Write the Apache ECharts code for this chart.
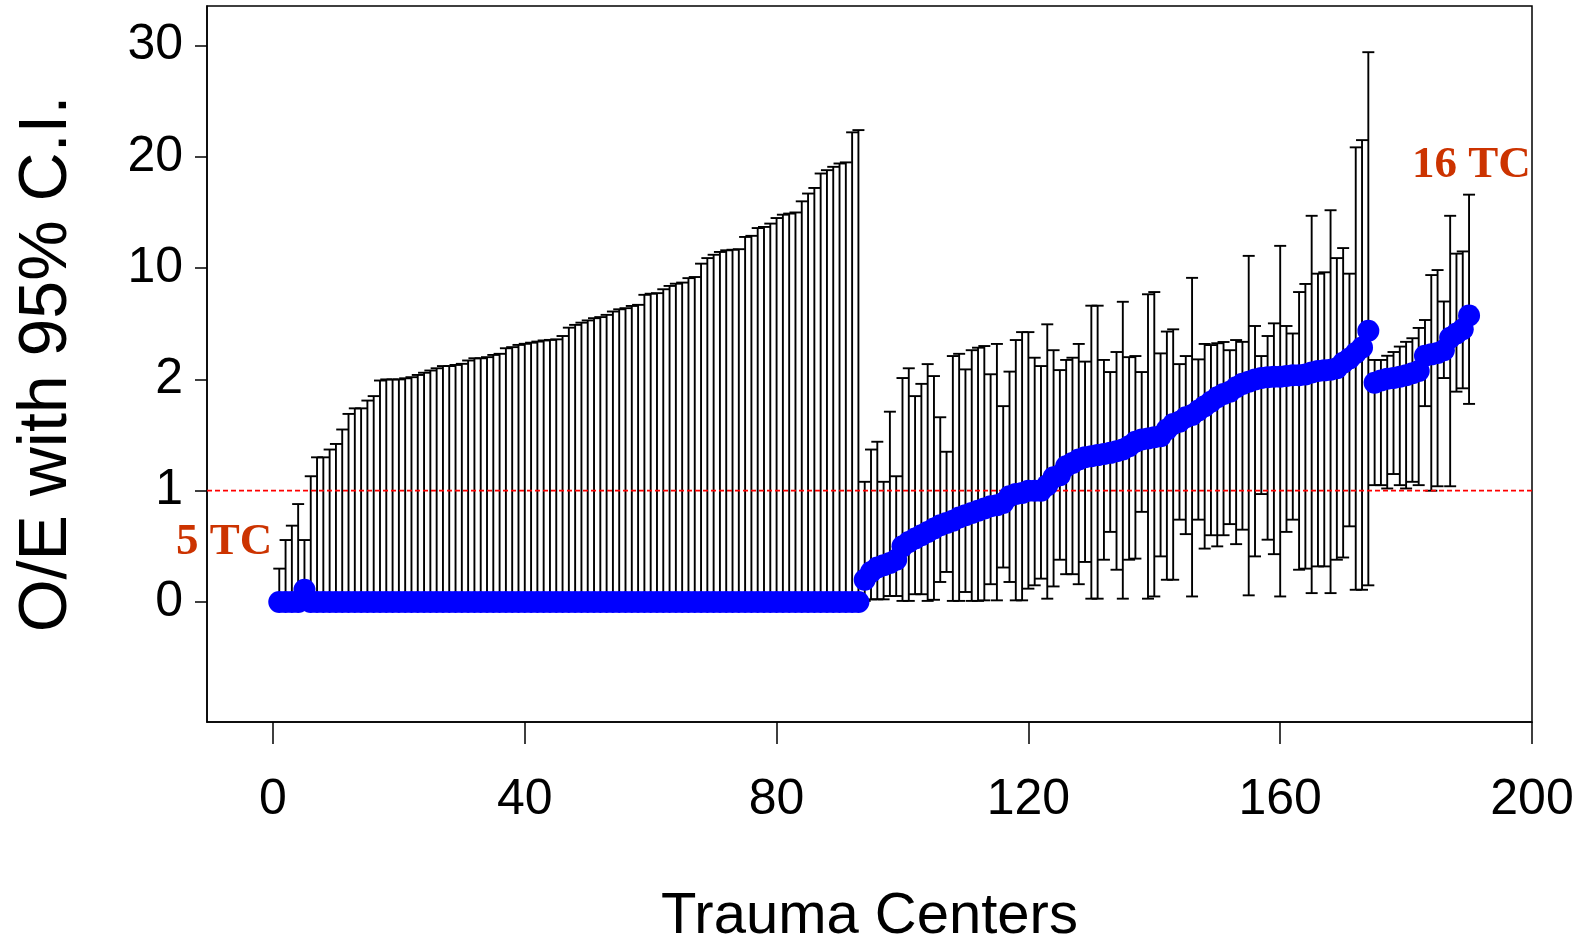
<!DOCTYPE html>
<html>
<head>
<meta charset="utf-8">
<script src="https://cdn.jsdelivr.net/npm/echarts@6/dist/echarts.min.js"></script>
<style>
html,body{margin:0;padding:0;background:#fff;}
#chart{width:1584px;height:943px;}
</style>
</head>
<body>
<div id="chart"></div>
<script>
// ---- data (actual O/E values, 95% CI) for trauma centers 1..190 ----
const oe = [
0,0,0,0,0.11,0,0,0,0,0,
0,0,0,0,0,0,0,0,0,0,
0,0,0,0,0,0,0,0,0,0,
0,0,0,0,0,0,0,0,0,0,
0,0,0,0,0,0,0,0,0,0,
0,0,0,0,0,0,0,0,0,0,
0,0,0,0,0,0,0,0,0,0,
0,0,0,0,0,0,0,0,0,0,
0,0,0,0,0,0,0,0,0,0,
0,0,0,
0.2,0.27,0.31,0.33,0.35,0.38,0.5,0.54,0.57,0.6,0.63,0.66,0.69,0.71,0.73,0.76,0.78,0.8,0.82,0.84,0.86,0.87,0.89,0.95,0.97,0.98,1.0,
1.0,1.0,1.05,1.12,1.14,1.22,1.25,1.28,1.3,1.31,1.32,1.33,1.34,1.355,1.37,1.4,1.44,1.46,1.47,1.48,1.49,1.55,1.6,1.62,1.66,1.68,1.72,1.76,1.8,1.84,1.87,
1.89,1.93,1.96,1.98,2.0,2.1,2.15,2.2,2.2,2.25,2.3,2.3,2.35,2.5,2.6,2.65,2.7,2.8,3.2,3.5,3.9,4.3,5.5,
1.97,1.99,2.05,2.1,2.2,2.3,2.45,2.6,3.7,3.8,3.9,4.1,5.0,5.3,5.6,6.6
];
const lower = [
0,0,0,0,0,0,0,0,0,0,
0,0,0,0,0,0,0,0,0,0,
0,0,0,0,0,0,0,0,0,0,
0,0,0,0,0,0,0,0,0,0,
0,0,0,0,0,0,0,0,0,0,
0,0,0,0,0,0,0,0,0,0,
0,0,0,0,0,0,0,0,0,0,
0,0,0,0,0,0,0,0,0,0,
0,0,0,0,0,0,0,0,0,0,
0,0,0,
0.01,0.024,0.024,0.024,0.054,0.054,0.01,0.01,0.07,0.07,0.01,0.02,0.18,0.27,0.01,0.01,0.09,0.01,0.01,0.015,0.16,0.015,0.31,0.18,0.015,0.015,0.12,
0.15,0.21,0.03,0.14,0.38,0.25,0.25,0.16,0.36,0.03,0.03,0.38,0.63,0.29,0.03,0.38,0.39,0.81,0.03,0.05,0.41,0.2,0.2,0.74,0.61,0.05,0.74,0.48,0.6,0.5,0.6,
0.7,0.52,0.65,0.06,0.41,0.97,0.56,0.43,0.05,0.63,0.74,0.29,0.3,0.08,0.32,0.32,0.08,0.38,0.4,0.68,0.11,0.11,0.15,
1.05,1.05,1.02,1.15,1.05,1.02,1.08,1.05,1.76,1.0,1.04,2.1,1.04,1.89,1.92,1.78
];
const upper = [
0.30,0.557,0.686,0.88,0.557,1.13,1.30,1.30,1.37,1.42,
1.55,1.69,1.74,1.74,1.81,1.85,1.99,2.0,2.0,2.0,
2.08,2.16,2.32,2.48,2.64,2.8,2.96,2.96,3.04,3.12,
3.36,3.52,3.52,3.6,3.76,3.84,4.24,4.32,4.48,4.56,
4.64,4.72,4.8,4.84,4.88,5.12,5.72,5.92,6.08,6.24,
6.4,6.48,6.64,6.88,7.04,7.12,7.28,7.36,8.08,8.16,
8.2,8.48,8.72,8.88,8.96,9.28,9.36,10.4,10.9,11.2,
11.45,11.6,11.65,11.7,12.8,12.9,13.6,13.7,14.0,14.5,
14.8,14.9,15.0,16.0,16.7,17.2,18.5,18.8,19.1,19.4,
19.5,22.2,22.4,
1.08,1.37,1.44,1.08,1.71,1.13,2.1,2.8,1.85,1.96,3.1,2.24,1.66,1.35,3.68,3.84,2.72,4.1,4.28,4.4,2.37,4.55,1.76,2.56,4.83,5.4,5.4,
3.56,2.96,5.96,4.1,2.67,3.4,3.56,4.55,3.28,7.3,7.3,3.4,2.53,3.97,7.58,3.6,3.68,2.53,8.12,8.28,3.87,5.44,5.6,3.1,3.68,9.3,3.44,4.55,4.47,4.6,4.69,
4.1,4.83,4.7,11.1,5.84,3.68,5.12,6.03,12.0,5.84,5.3,8.28,8.86,14.7,9.6,9.7,15.2,10.9,11.8,9.6,20.85,21.5,29.4,
3.4,3.4,3.7,3.97,4.36,4.7,4.96,5.7,6.27,9.5,9.86,7.6,14.7,11.3,11.5,16.6
];
const xTickValues = [0, 40, 80, 120, 160, 200];
const yTickValues = [0, 1, 2, 10, 20, 30];
const yTickLabels = ['0', '1', '2', '10', '20', '30'];
const referenceValue = 1;
const annotations = [{text: '5 TC'}, {text: '16 TC'}];

// piecewise scale used by the original figure: 0-1-2 linear, then 2-10, 10-20, 20-30 each one step
function T(v) {
  if (v <= 2) return v;
  if (v <= 10) return 2 + (v - 2) / 8;
  if (v <= 20) return 3 + (v - 10) / 10;
  return 4 + (v - 20) / 10;
}
const yCustom = yTickValues.map(T);
const labelMap = {};
yCustom.forEach((p, k) => { labelMap[p.toFixed(4)] = yTickLabels[k]; });

const X_MIN = -10.48, X_MAX = 200, Y_MIN = -1.078, Y_MAX = 5.355;

const barData = [], dotData = [];
for (let k = 0; k < oe.length; k++) {
  const c = k + 1;
  barData.push([c, T(lower[k]), T(upper[k])]);
  dotData.push([c, T(oe[k])]);
}

const chart = echarts.init(document.getElementById('chart'), null, {renderer: 'canvas'});
const font = 'Liberation Sans';
chart.setOption({
  animation: false,
  backgroundColor: '#ffffff',
  grid: {left: 207, right: 52, top: 6, bottom: 221, show: true, borderColor: '#000', borderWidth: 1.5,
         containLabel: false, outerBoundsMode: 'none'},
  xAxis: {
    type: 'value', min: X_MIN, max: X_MAX,
    axisLine: {show: true, onZero: false, lineStyle: {color: '#000', width: 1.5}},
    axisTick: {show: true, customValues: xTickValues, length: 22, lineStyle: {color: '#000', width: 1.5}},
    axisLabel: {customValues: xTickValues, fontSize: 50, color: '#000', margin: 53, fontFamily: font},
    splitLine: {show: false},
    name: 'Trauma Centers', nameLocation: 'middle', nameGap: 166,
    nameTextStyle: {fontSize: 58, color: '#000', fontFamily: font}
  },
  yAxis: {
    type: 'value', min: Y_MIN, max: Y_MAX,
    axisLine: {show: true, onZero: false, lineStyle: {color: '#000', width: 1.5}},
    axisTick: {show: true, customValues: yCustom, length: 12, lineStyle: {color: '#000', width: 1.5}},
    axisLabel: {customValues: yCustom, fontSize: 50, color: '#000', margin: 24, fontFamily: font,
      formatter: v => labelMap[Number(v).toFixed(4)] || ''},
    splitLine: {show: false},
    name: 'O/E with 95% C.I.', nameLocation: 'middle', nameRotate: 90, nameGap: 126,
    nameTextStyle: {fontSize: 68, color: '#000', fontFamily: font}
  },
  series: [
    {
      type: 'custom', z: 2, clip: true,
      data: barData,
      encode: {x: 0, y: [1, 2]},
      renderItem: function (params, api) {
        const x = api.value(0);
        const lo = api.coord([x, api.value(1)]);
        const hi = api.coord([x, api.value(2)]);
        const hw = 6;
        const st = {stroke: '#000', lineWidth: 1.9};
        return {type: 'group', children: [
          {type: 'line', shape: {x1: lo[0], y1: lo[1], x2: hi[0], y2: hi[1]}, style: st},
          {type: 'line', shape: {x1: hi[0] - hw, y1: hi[1], x2: hi[0] + hw, y2: hi[1]}, style: st},
          {type: 'line', shape: {x1: lo[0] - hw, y1: lo[1], x2: lo[0] + hw, y2: lo[1]}, style: st}
        ]};
      }
    },
    {
      type: 'line', z: 3, symbol: 'none', silent: true,
      data: [[X_MIN, T(referenceValue)], [X_MAX, T(referenceValue)]],
      lineStyle: {color: '#ff0000', width: 1.8, type: [5, 3]}
    },
    {
      type: 'scatter', z: 4, symbol: 'circle', symbolSize: 22,
      data: dotData,
      itemStyle: {color: '#0000ff', opacity: 1}
    }
  ],
  graphic: [
    {type: 'text', left: 176, top: 520, z: 10,
     style: {text: annotations[0].text, font: 'bold 45px "Liberation Serif"', fill: '#cc3300'}},
    {type: 'text', left: 1412, top: 143, z: 10,
     style: {text: annotations[1].text, font: 'bold 45px "Liberation Serif"', fill: '#cc3300'}}
  ]
});
</script>
</body>
</html>
